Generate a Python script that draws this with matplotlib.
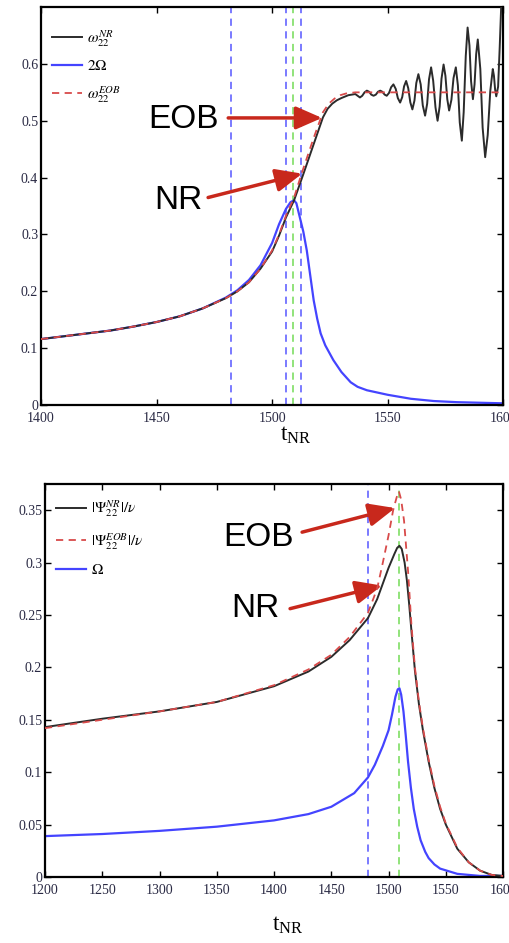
import matplotlib
matplotlib.use("Agg")
import matplotlib.pyplot as plt

plt.rcParams['mathtext.fontset'] = 'stix'
plt.rcParams['font.family'] = ['Liberation Serif', 'DejaVu Serif']

# ---------------- Top panel data ----------------
t_top_nr = [1400, 1410, 1420, 1430, 1440, 1450, 1460, 1470, 1480, 1485, 1490, 1495, 1500, 1503, 1506,
            1509.5, 1513.5, 1518, 1522, 1524, 1526, 1528, 1530, 1533, 1536,
            1538, 1539, 1540, 1541, 1542.0, 1542.9, 1543.9, 1544.9, 1545.8, 1546.8, 1547.7, 1548.7,
            1549.6, 1550.6, 1551.5, 1552.5, 1553.5, 1554.4, 1555.4, 1556.3, 1557.1, 1558, 1558.9, 1559.8,
            1560.7, 1561.6, 1562.4, 1563.3, 1564.3, 1565.2, 1566.2, 1567.1, 1567.9, 1568.8, 1569.7, 1570.7,
            1571.6, 1572.5, 1573.3, 1574.2, 1575.0, 1575.8, 1576.6, 1577.6, 1578.5, 1579.5, 1580.4, 1581.2,
            1582.1, 1582.9, 1583.8, 1584.6, 1585.4, 1586.1, 1586.9, 1587.6, 1588.3, 1589, 1590.1, 1591.1,
            1592.2, 1593.3, 1594.4, 1595.5, 1596.0, 1596.5, 1597, 1597.8, 1598.5, 1599.3]
w_top_nr = [0.116, 0.121, 0.126, 0.131, 0.138, 0.146, 0.156, 0.170, 0.188, 0.200, 0.216, 0.240, 0.270, 0.298, 0.330,
            0.360, 0.406, 0.459, 0.506, 0.521, 0.530, 0.536, 0.540, 0.545, 0.547,
            0.541, 0.544, 0.550, 0.553, 0.551, 0.546, 0.544, 0.546, 0.551, 0.553, 0.551, 0.546,
            0.544, 0.549, 0.559, 0.564, 0.556, 0.540, 0.532, 0.5415, 0.5605, 0.570, 0.5575, 0.5325,
            0.520, 0.5355, 0.5665, 0.582, 0.564, 0.527, 0.509, 0.530, 0.573, 0.594, 0.5705, 0.5235,
            0.500, 0.525, 0.574, 0.599, 0.579, 0.538, 0.518, 0.537, 0.575, 0.594, 0.562, 0.497,
            0.465, 0.515, 0.614, 0.664, 0.6325, 0.5695, 0.538, 0.564, 0.617, 0.643, 0.591, 0.488,
            0.436, 0.475, 0.552, 0.591, 0.579, 0.555, 0.543, 0.560, 0.630, 0.720]

t_top_eob = [1400, 1410, 1420, 1430, 1440, 1450, 1460, 1470, 1480, 1485, 1490, 1495, 1500, 1503, 1506,
             1509.5, 1513, 1518, 1522, 1524.5, 1527, 1529.5, 1532, 1536, 1540, 1600]
w_top_eob = [0.116, 0.121, 0.126, 0.131, 0.138, 0.146, 0.156, 0.170, 0.188, 0.200, 0.216, 0.240, 0.272, 0.300, 0.333,
             0.365, 0.410, 0.470, 0.515, 0.530, 0.539, 0.545, 0.548, 0.550, 0.550, 0.550]

t_top_om = [1400, 1410, 1420, 1430, 1440, 1450, 1460, 1470, 1480, 1485, 1490, 1495, 1500, 1503, 1506,
            1508, 1509.5, 1510.5, 1512, 1513.5, 1515, 1516.5, 1518, 1519.5, 1521, 1523, 1526.5, 1530,
            1534, 1537, 1541, 1550, 1560, 1570, 1580, 1590, 1600]
w_top_om = [0.116, 0.121, 0.126, 0.131, 0.138, 0.146, 0.156, 0.170, 0.189, 0.202, 0.220, 0.246, 0.285, 0.318, 0.345,
            0.357, 0.360, 0.355, 0.330, 0.305, 0.272, 0.228, 0.184, 0.152, 0.126, 0.105, 0.079, 0.058,
            0.040, 0.032, 0.026, 0.018, 0.011, 0.007, 0.005, 0.004, 0.003]

top_vlines_blue = [1482, 1506, 1512.5]
top_vlines_green = [1509]
top_xticks = [1400, 1450, 1500, 1550, 1600]
top_yticks = [0, 0.1, 0.2, 0.3, 0.4, 0.5, 0.6]
top_yticklabels = ['0', '0.1', '0.2', '0.3', '0.4', '0.5', '0.6']

# ---------------- Bottom panel data ----------------
t_bot_nr = [1200, 1250, 1300, 1350, 1400, 1430, 1450, 1466, 1482, 1490, 1495, 1500, 1505, 1507.5, 1509.5, 1511.5,
            1514, 1516, 1518, 1520.5, 1523, 1526.5, 1530, 1535, 1540, 1545, 1550, 1560, 1570, 1580, 1590, 1600]
a_bot_nr = [0.143, 0.151, 0.158, 0.167, 0.182, 0.196, 0.210, 0.226, 0.247, 0.265, 0.280, 0.295, 0.308, 0.314, 0.316, 0.313,
            0.300, 0.283, 0.260, 0.228, 0.197, 0.165, 0.140, 0.110, 0.085, 0.065, 0.050, 0.027, 0.014, 0.006, 0.002, 0.001]

t_bot_eob = [1200, 1250, 1300, 1350, 1400, 1430, 1450, 1466, 1482, 1490, 1495, 1500, 1504, 1507, 1509, 1511, 1513.5,
             1517, 1520, 1523, 1526.5, 1530, 1535, 1540, 1545, 1550, 1560, 1570, 1580, 1590, 1600]
a_bot_eob = [0.142, 0.150, 0.158, 0.167, 0.183, 0.198, 0.212, 0.229, 0.252, 0.275, 0.300, 0.326, 0.350, 0.362, 0.368, 0.360,
             0.340, 0.292, 0.240, 0.200, 0.167, 0.142, 0.112, 0.087, 0.067, 0.051, 0.028, 0.014, 0.006, 0.002, 0.001]

t_bot_om = [1200, 1250, 1300, 1350, 1400, 1430, 1450, 1470, 1482, 1488, 1495, 1500, 1503, 1506, 1508, 1509.5, 1511,
            1513, 1515, 1517, 1519.5, 1522, 1525, 1528, 1532, 1535, 1540, 1545, 1560, 1580, 1600]
o_bot_om = [0.039, 0.041, 0.044, 0.048, 0.054, 0.060, 0.067, 0.080, 0.095, 0.107, 0.125, 0.140, 0.155, 0.172, 0.179,
            0.180, 0.174, 0.158, 0.135, 0.110, 0.085, 0.065, 0.048, 0.035, 0.024, 0.018, 0.012, 0.008, 0.003, 0.001, 0.001]

bot_vlines_blue = [1482]
bot_vlines_green = [1509]
bot_xticks = [1200, 1250, 1300, 1350, 1400, 1450, 1500, 1550, 1600]
bot_yticks = [0, 0.05, 0.1, 0.15, 0.2, 0.25, 0.3, 0.35]
bot_yticklabels = ['0', '0.05', '0.1', '0.15', '0.2', '0.25', '0.3', '0.35']

BLACK = '#2b2b2b'
BLUE = '#4444ff'
RED = '#d84a4a'
VBLUE = '#7070ff'
VGREEN = '#88e070'
ARROW = '#c8281c'
TICKC = '#2a2a44'

fig = plt.figure(figsize=(5.09, 9.43), dpi=100)
ax1 = fig.add_axes([0.0806, 0.5705, 0.908, 0.422])
ax2 = fig.add_axes([0.0884, 0.0700, 0.900, 0.4168])


def style(ax, xticks, yticks, ylabels, lab_xy):
    ax.set_xticks(xticks)
    ax.set_xticklabels([str(x) for x in xticks])
    ax.set_yticks(yticks)
    ax.set_yticklabels(ylabels)
    ax.tick_params(direction='in', top=True, right=True, length=4, width=1,
                   labelsize=10, colors='black', labelcolor=TICKC)
    ax.tick_params(axis='x', pad=5)
    ax.tick_params(axis='y', pad=2)
    for s in ax.spines.values():
        s.set_linewidth(1.6)
    ax.set_xlabel(r'$\mathregular{t_{NR}}$', fontsize=17, va='center')
    ax.xaxis.set_label_coords(*lab_xy)


arrow_style = '-|>,head_length=0.8,head_width=0.35'

# Top panel
for x in top_vlines_blue:
    ax1.axvline(x, color=VBLUE, ls=(0, (4, 3)), lw=1.3)
for x in top_vlines_green:
    ax1.axvline(x, color=VGREEN, ls=(0, (4, 3)), lw=1.3)
ax1.plot(t_top_nr, w_top_nr, color=BLACK, lw=1.4, label=r'$\omega_{22}^{NR}$', zorder=3)
ax1.plot(t_top_om, w_top_om, color=BLUE, lw=1.6, label=r'$2\Omega$', zorder=2)
ax1.plot(t_top_eob, w_top_eob, color=RED, lw=1.3, ls=(0, (4, 3)), label=r'$\omega_{22}^{EOB}$', zorder=4)
ax1.set_xlim(1400, 1600)
ax1.set_ylim(0, 0.7)
style(ax1, top_xticks, top_yticks, top_yticklabels, (0.552, -0.075))
ax1.legend(loc='upper left', frameon=False, fontsize=11, handlelength=2.0,
           handletextpad=0.3, labelspacing=0.7, borderaxespad=0.3, bbox_to_anchor=(0.0, 0.975))

ax1.text(1461.5, 0.503, 'EOB', fontsize=24, family='Liberation Sans', ha='center', va='center')
ax1.annotate('', xy=(1521.6, 0.505), xytext=(1481, 0.505),
             arrowprops=dict(arrowstyle=arrow_style, color=ARROW, lw=2.5,
                             mutation_scale=20, shrinkA=0, shrinkB=0))
ax1.text(1459.3, 0.360, 'NR', fontsize=24, family='Liberation Sans', ha='center', va='center')
ax1.annotate('', xy=(1513, 0.407), xytext=(1472.3, 0.365),
             arrowprops=dict(arrowstyle=arrow_style, color=ARROW, lw=2.5,
                             mutation_scale=20, shrinkA=0, shrinkB=0))

# Bottom panel
for x in bot_vlines_blue:
    ax2.axvline(x, color=VBLUE, ls=(0, (4, 3)), lw=1.3)
for x in bot_vlines_green:
    ax2.axvline(x, color=VGREEN, ls=(0, (4, 3)), lw=1.3)
ax2.plot(t_bot_nr, a_bot_nr, color=BLACK, lw=1.4, label=r'$|\Psi_{22}^{NR}|/\nu$', zorder=3)
ax2.plot(t_bot_eob, a_bot_eob, color=RED, lw=1.3, ls=(0, (4, 3)), label=r'$|\Psi_{22}^{EOB}|/\nu$', zorder=4)
ax2.plot(t_bot_om, o_bot_om, color=BLUE, lw=1.6, label=r'$\Omega$', zorder=2)
ax2.set_xlim(1200, 1600)
ax2.set_ylim(0, 0.375)
style(ax2, bot_xticks, bot_yticks, bot_yticklabels, (0.53, -0.122))
ax2.legend(loc='upper left', frameon=False, fontsize=11, handlelength=2.0,
           handletextpad=0.3, labelspacing=0.75, borderaxespad=0.3, bbox_to_anchor=(0.0, 0.99))

ax2.text(1386, 0.324, 'EOB', fontsize=24, family='Liberation Sans', ha='center', va='center')
ax2.annotate('', xy=(1505.7, 0.352), xytext=(1424.5, 0.329),
             arrowprops=dict(arrowstyle=arrow_style, color=ARROW, lw=2.5,
                             mutation_scale=20, shrinkA=0, shrinkB=0))
ax2.text(1383.4, 0.256, 'NR', fontsize=24, family='Liberation Sans', ha='center', va='center')
ax2.annotate('', xy=(1494.3, 0.278), xytext=(1414, 0.256),
             arrowprops=dict(arrowstyle=arrow_style, color=ARROW, lw=2.5,
                             mutation_scale=20, shrinkA=0, shrinkB=0))

fig.savefig('out.png', dpi=100)
